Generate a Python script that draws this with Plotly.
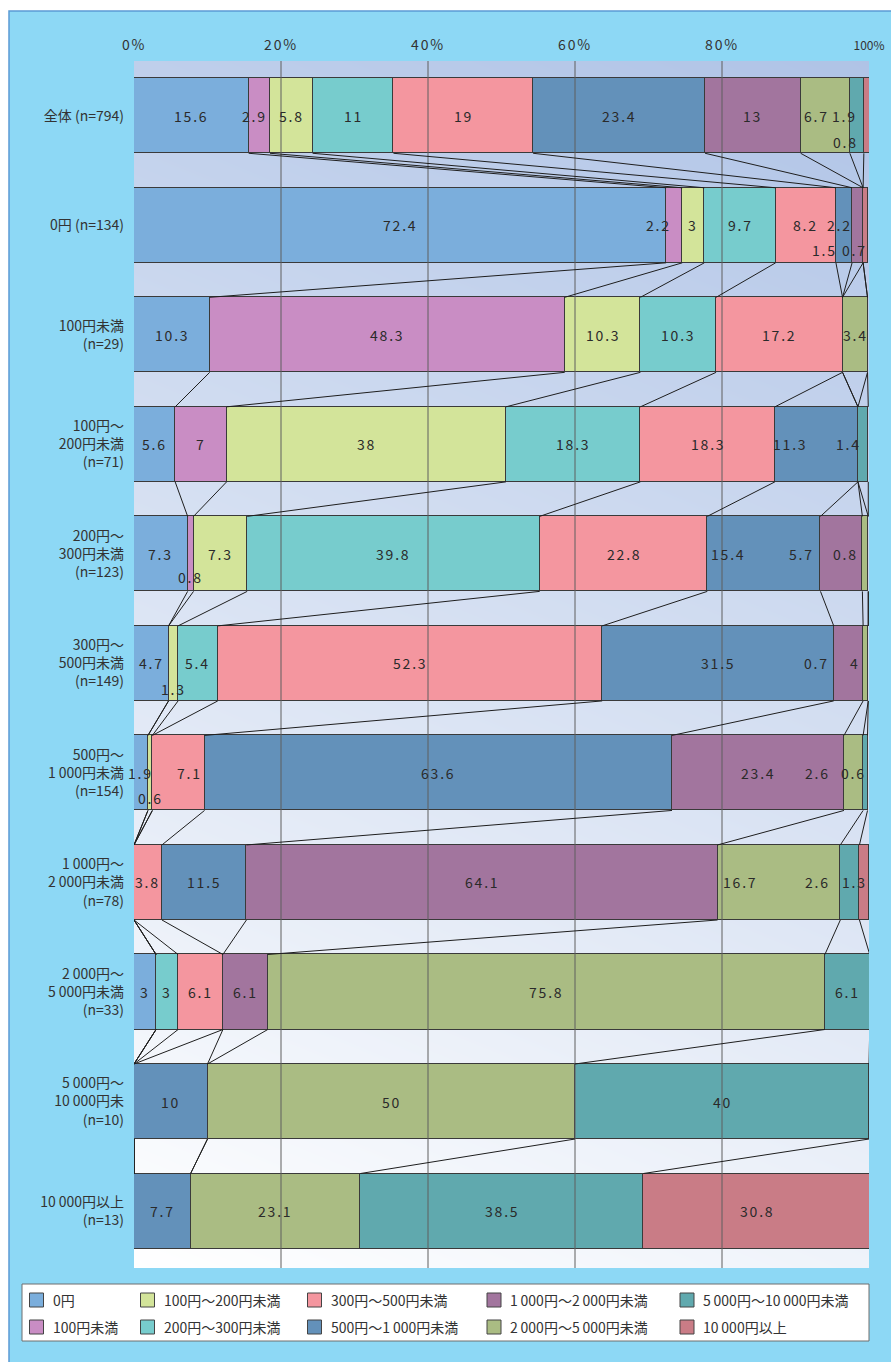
import numpy as np
import plotly.graph_objects as go

FONT = "Noto Sans CJK JP"
TXT = "#333333"

# Spending brackets (stack order, left to right)
series_names = [
    "0円", "100円未満", "100円～200円未満", "200円～300円未満", "300円～500円未満",
    "500円～1\u2009000円未満", "1\u2009000円～2\u2009000円未満", "2\u2009000円～5\u2009000円未満",
    "5\u2009000円～10\u2009000円未満", "10\u2009000円以上",
]
series_colors = [
    "#7BAEDC", "#C98DC4", "#D3E49A", "#77CCCD", "#F4969F",
    "#6391BA", "#A2759E", "#AABC83", "#60A9AE", "#C97C86",
]

# Respondent groups (rows, top to bottom)
row_labels = [
    "全体 (n=794)",
    "0円 (n=134)",
    "100円未満<br>(n=29)",
    "100円～<br>200円未満<br>(n=71)",
    "200円～<br>300円未満<br>(n=123)",
    "300円～<br>500円未満<br>(n=149)",
    "500円～<br>1\u2009000円未満<br>(n=154)",
    "1\u2009000円～<br>2\u2009000円未満<br>(n=78)",
    "2\u2009000円～<br>5\u2009000円未満<br>(n=33)",
    "5\u2009000円～<br>10\u2009000円未<br>(n=10)",
    "10\u2009000円以上<br>(n=13)",
]

# Share (%) of each bracket within each row
yen_0        = [15.6, 72.4, 10.3, 5.6, 7.3, 4.7, 1.9, 0, 3, 0, 0]
yen_lt100    = [2.9, 2.2, 48.3, 7, 0.8, 0, 0, 0, 0, 0, 0]
yen_100_200  = [5.8, 3, 10.3, 38, 7.3, 1.3, 0.6, 0, 0, 0, 0]
yen_200_300  = [11, 9.7, 10.3, 18.3, 39.8, 5.4, 0, 0, 3, 0, 0]
yen_300_500  = [19, 8.2, 17.2, 18.3, 22.8, 52.3, 7.1, 3.8, 6.1, 0, 0]
yen_500_1k   = [23.4, 2.2, 0, 11.3, 15.4, 31.5, 63.6, 11.5, 0, 10, 7.7]
yen_1k_2k    = [13, 1.5, 0, 0, 5.7, 4, 23.4, 64.1, 6.1, 0, 0]
yen_2k_5k    = [6.7, 0, 3.4, 0, 0.8, 0.7, 2.6, 16.7, 75.8, 50, 23.1]
yen_5k_10k   = [1.9, 0, 0, 1.4, 0, 0, 0.6, 2.6, 6.1, 40, 38.5]
yen_10k_plus = [0.8, 0.7, 0, 0, 0, 0, 0, 1.3, 0, 0, 30.8]

series_values = [yen_0, yen_lt100, yen_100_200, yen_200_300, yen_300_500,
                 yen_500_1k, yen_1k_2k, yen_2k_5k, yen_5k_10k, yen_10k_plus]

x_ticks = [0, 20, 40, 60, 80, 100]
x_tick_labels = ["0%", "20%", "40%", "60%", "80%", "100%"]


def spaced(s, gap=1.8):
    return f"<span style='letter-spacing:{gap}px'>{s}</span>"


x_tick_text = [spaced(t) for t in x_tick_labels[:-1]] + [
    f"<span style='font-size:12px'>{x_tick_labels[-1]}</span>"]

# Nudges (px: right, down) for labels of narrow segments so they don't collide
label_nudge = {
    (0, 1): (-5, 0), (0, 7): (-9, 0), (0, 8): (-12, 0), (0, 9): (-21, 26),
    (1, 1): (-16, 0), (1, 5): (-5, 0), (1, 6): (-33, 25), (1, 9): (-11, 25),
    (3, 5): (-26, 0), (3, 8): (-15, 0),
    (4, 1): (0, 23), (4, 5): (-36, 0), (4, 6): (-40, 0), (4, 7): (-20, 0),
    (5, 2): (0, 26), (5, 6): (7, 0), (5, 7): (-49, 0),
    (6, 2): (0, 25), (6, 4): (11, 0), (6, 7): (-36, 0), (6, 8): (-12, 0),
    (7, 7): (-39, 0), (7, 8): (-32, 0), (7, 9): (-10, 0),
}

W, H = 891, 1362
ML, MR, MT, MB = 134, 22, 61, 94
PW, PH = W - ML - MR, H - MT - MB
BAR_W = 0.685
Y_RANGE = [10.52, -0.5]

n_rows = len(row_labels)
rows = list(range(n_rows))

fig = go.Figure()

# Plot-area background: soft blue fading to white towards the bottom-left
gx = np.linspace(-2, 102, 27)
gy = np.linspace(-0.7, 10.7, 40)
GX, GY = np.meshgrid(gx, gy)
shade = np.clip(0.8 * (GY + 0.5) / 11.02 + 0.2 * (1 - GX / 100), 0, 1)
fig.add_trace(go.Heatmap(
    x=gx, y=gy, z=shade, zmin=0, zmax=1, zsmooth="best",
    colorscale=[[0, "#AFC3E6"], [1, "#FFFFFF"]], showscale=False,
    hoverinfo="skip",
))

# Vertical grid lines
gxs, gys = [], []
for v in x_ticks[1:-1]:
    gxs += [v, v, None]
    gys += [Y_RANGE[1], Y_RANGE[0], None]
fig.add_trace(go.Scatter(x=gxs, y=gys, mode="lines",
                         line=dict(color="#5f5f5f", width=1),
                         hoverinfo="skip", showlegend=False))

# Cumulative segment ends per row
cum = np.cumsum(np.array(series_values, dtype=float), axis=0)  # [series, row]

# Series lines joining segment boundaries of neighbouring rows
half = BAR_W / 2
lx, ly = [], []
for r in range(n_rows - 1):
    for k in range(len(series_values) - 1):
        lx += [cum[k, r], cum[k, r + 1], None]
        ly += [r + half, r + 1 - half, None]
fig.add_trace(go.Scatter(x=lx, y=ly, mode="lines",
                         line=dict(color="#1e1e1e", width=1),
                         hoverinfo="skip", showlegend=False))

# Stacked bars
for name, vals, col in zip(series_names, series_values, series_colors):
    fig.add_trace(go.Bar(
        y=rows, x=vals, name=name, orientation="h", width=BAR_W,
        marker=dict(color=col, line=dict(color="#3a3a3a", width=1)),
        showlegend=False,
    ))

annotations = []
# Value labels
for r in rows:
    start = 0.0
    for k, vals in enumerate(series_values):
        v = vals[r]
        if v > 0:
            dx, dy = label_nudge.get((r, k), (0, 0))
            annotations.append(dict(
                x=start + v / 2, y=r, xref="x", yref="y", text=spaced(f"{v:g}"),
                showarrow=False, xshift=dx, yshift=-dy,
                font=dict(family=FONT, size=14, color="#2a2a2a"),
            ))
        start += v


def px_x(px):
    return (px - ML) / PW


def px_y(py):
    return (H - MB - py) / PH


shapes = [
    # outer panel
    dict(type="rect", xref="paper", yref="paper", layer="below",
         x0=px_x(9), x1=px_x(W + 5), y0=px_y(H + 5), y1=px_y(11),
         fillcolor="#8DD8F5", line=dict(color="#5B9BD5", width=1.5)),
    # legend box
    dict(type="rect", xref="paper", yref="paper", layer="below",
         x0=px_x(22), x1=px_x(869), y0=px_y(1341), y1=px_y(1284),
         fillcolor="#FFFFFF", line=dict(color="#6e6e6e", width=1)),
]

# Legend: two entries per column
leg_cols = [29.5, 140.5, 307.5, 487, 680]
leg_rows = [1300, 1327]
for i, (name, col) in enumerate(zip(series_names, series_colors)):
    cx = leg_cols[i // 2]
    cy = leg_rows[i % 2]
    shapes.append(dict(type="rect", xref="paper", yref="paper", layer="below",
                       x0=px_x(cx), x1=px_x(cx + 14), y0=px_y(cy + 7), y1=px_y(cy - 7),
                       fillcolor=col, line=dict(color="#444444", width=1)))
    annotations.append(dict(x=px_x(cx + 21), y=px_y(cy), xref="paper", yref="paper",
                            text=name, showarrow=False, xanchor="left", yanchor="middle",
                            font=dict(family=FONT, size=14, color=TXT)))

fig.update_layout(
    width=W, height=H, margin=dict(l=ML, r=MR, t=MT, b=MB, autoexpand=False),
    barmode="stack", bargap=0,
    paper_bgcolor="#FFFFFF", plot_bgcolor="rgba(0,0,0,0)",
    font=dict(family=FONT, size=14, color=TXT),
    shapes=shapes, annotations=annotations, showlegend=False,
    xaxis=dict(range=[0, 100], side="top", tickvals=x_ticks, ticktext=x_tick_text,
               showgrid=False, zeroline=False, showline=False, ticks="",
               ticklabelstandoff=7, fixedrange=True, automargin=False,
               tickfont=dict(family=FONT, size=14, color=TXT)),
    yaxis=dict(range=Y_RANGE, tickvals=rows, ticktext=row_labels,
               showgrid=False, zeroline=False, showline=False, ticks="",
               ticklabelstandoff=9, fixedrange=True, automargin=False,
               tickfont=dict(family=FONT, size=14, color=TXT)),
)

fig.write_html("out.html")
